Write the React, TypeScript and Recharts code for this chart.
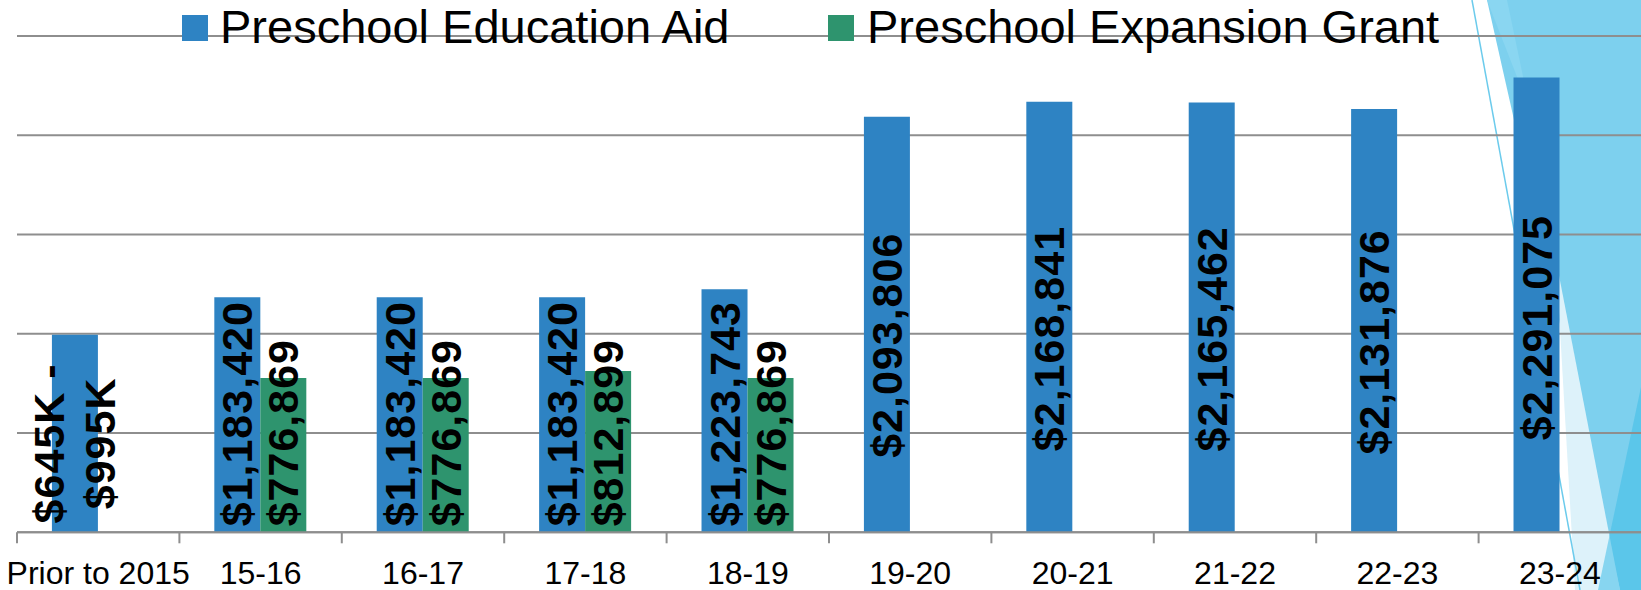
import React from 'react';
import { BarChart, Bar, XAxis, YAxis, CartesianGrid, LabelList } from 'recharts';

const categories = ['Prior to 2015', '15-16', '16-17', '17-18', '18-19', '19-20', '20-21', '21-22', '22-23', '23-24'];
const educationAid = [995000, 1183420, 1183420, 1183420, 1223743, 2093806, 2168841, 2165462, 2131876, 2291075];
const expansionGrant: (number | null)[] = [null, 776869, 776869, 812899, 776869, null, null, null, null, null];
const priorRangeLabel = ['$645K -', '$995K'];
const yTicks = [0, 500000, 1000000, 1500000, 2000000, 2500000];
const seriesNames = ['Preschool Education Aid', 'Preschool Expansion Grant'];

const BLUE = '#2E83C3';
const GREEN = '#2E946E';
const GRID = '#8E8E8E';
const FONT = '"Liberation Sans", Arial, sans-serif';

const W = 1641;
const H = 590;
const M_LEFT = 17;
const M_TOP = 36;
const X_AXIS_H = 57.7;
const BASE_Y = H - X_AXIS_H;
const BAND = (W - M_LEFT) / categories.length;
const LABEL_SIZE = 43;
const LABEL_SPACING = 1;

const data = categories.map((c, i) => ({
  category: c,
  aid: educationAid[i],
  grant: expansionGrant[i],
}));

const fmt = (v: number) => '$' + v.toLocaleString('en-US');

const charW = (ch: string) =>
  '0123456789$'.includes(ch) ? 0.556 : ch === ',' ? 0.278 : ch === 'K' ? 0.722 : ch === ' ' ? 0.278 : ch === '-' ? 0.333 : 0.556;
const estLen = (s: string) =>
  s.split('').reduce((a, c) => a + charW(c), 0) * LABEL_SIZE + s.length * LABEL_SPACING;

const makeLabel = (series: 'aid' | 'grant') => (props: any) => {
  const { x, y, width, height, value, index } = props;
  if (value == null) return null;
  const cx = Number(x) + Number(width) / 2;
  const h = Number(height);
  const mid = Number(y) + h / 2 + 0.05 * h;
  const isPrior = series === 'aid' && (index === 0 || value === educationAid[0]);
  const lines = isPrior ? priorRangeLabel : [fmt(Number(value))];
  const len = Math.max(...lines.map(estLen));
  const cy = Math.min(mid, BASE_Y - 6 - len / 2);
  const gap = 51;
  return (
    <g transform={`rotate(-90 ${cx} ${cy})`}>
      {lines.map((t, i) => (
        <text
          key={i}
          x={cx}
          y={cy + (i - (lines.length - 1) / 2) * gap}
          textAnchor="middle"
          dominantBaseline="central"
          fontSize={LABEL_SIZE}
          fontWeight="bold"
          fontFamily={FONT}
          letterSpacing={LABEL_SPACING}
          fill="#000"
        >
          {t}
        </text>
      ))}
    </g>
  );
};

const CategoryTick = (props: any) => {
  const { x, y, payload } = props;
  const bx = Number(x) - BAND / 2;
  return (
    <g>
      <line x1={bx} y1={y} x2={bx} y2={Number(y) + 11} stroke={GRID} strokeWidth={2} />
      <text x={x} y={Number(y) + 51.7} textAnchor="middle" fontSize={32} fontFamily={FONT} fill="#000">
        {payload.value}
      </text>
    </g>
  );
};

const LegendOverlay = () => (
  <svg width={W} height={60} style={{ position: 'absolute', left: 0, top: 0, display: 'block' }}>
    <rect x={182} y={15} width={26} height={26} fill={BLUE} />
    <text x={220} y={43} fontSize={47} fontFamily={FONT} fill="#000">{seriesNames[0]}</text>
    <rect x={828} y={15} width={26} height={26} fill={GREEN} />
    <text x={867} y={43} fontSize={47} fontFamily={FONT} fill="#000">{seriesNames[1]}</text>
  </svg>
);

const Decoration = () => (
  <svg width={W} height={H} style={{ position: 'absolute', left: 0, top: 0 }}>
    <polygon points="1487,0 1641,0 1641,590 1620,590" fill="#7DD0EE" />
    <polygon points="1487,0 1507,0 1530,110" fill="#8AD6F1" />
    <polygon points="1556,260 1620,590 1575,590" fill="#DDF2FA" />
    <polygon points="1641,387 1641,590 1598,590" fill="#3FBDE8" fillOpacity={0.55} />
    <line x1={1472} y1={0} x2={1580} y2={590} stroke="#6CCBEC" strokeWidth={1.5} />
  </svg>
);

export default function App() {
  return (
    <div style={{ position: 'absolute', left: 0, top: 0, width: W, height: H, overflow: 'hidden', background: '#fff' }}>
      <Decoration />
      <div style={{ position: 'absolute', left: 0, top: 0, width: W, height: H }}>
        <BarChart
          width={W}
          height={H}
          data={data}
          margin={{ top: M_TOP, right: 0, left: M_LEFT, bottom: 0 }}
          barCategoryGap="21.5%"
          barGap={0}
        >
          <CartesianGrid vertical={false} stroke={GRID} strokeWidth={2} />
          <YAxis hide type="number" domain={[0, 2500000]} ticks={yTicks} />
          <XAxis
            dataKey="category"
            height={X_AXIS_H}
            axisLine={{ stroke: GRID, strokeWidth: 2 }}
            tickLine={false}
            tickSize={0}
            tickMargin={0}
            interval={0}
            tick={<CategoryTick />}
          />
          <Bar dataKey="aid" name={seriesNames[0]} fill={BLUE} isAnimationActive={false}>
            <LabelList dataKey="aid" content={makeLabel('aid')} />
          </Bar>
          <Bar dataKey="grant" name={seriesNames[1]} fill={GREEN} isAnimationActive={false}>
            <LabelList dataKey="grant" content={makeLabel('grant')} />
          </Bar>
        </BarChart>
      </div>
      <LegendOverlay />
    </div>
  );
}
